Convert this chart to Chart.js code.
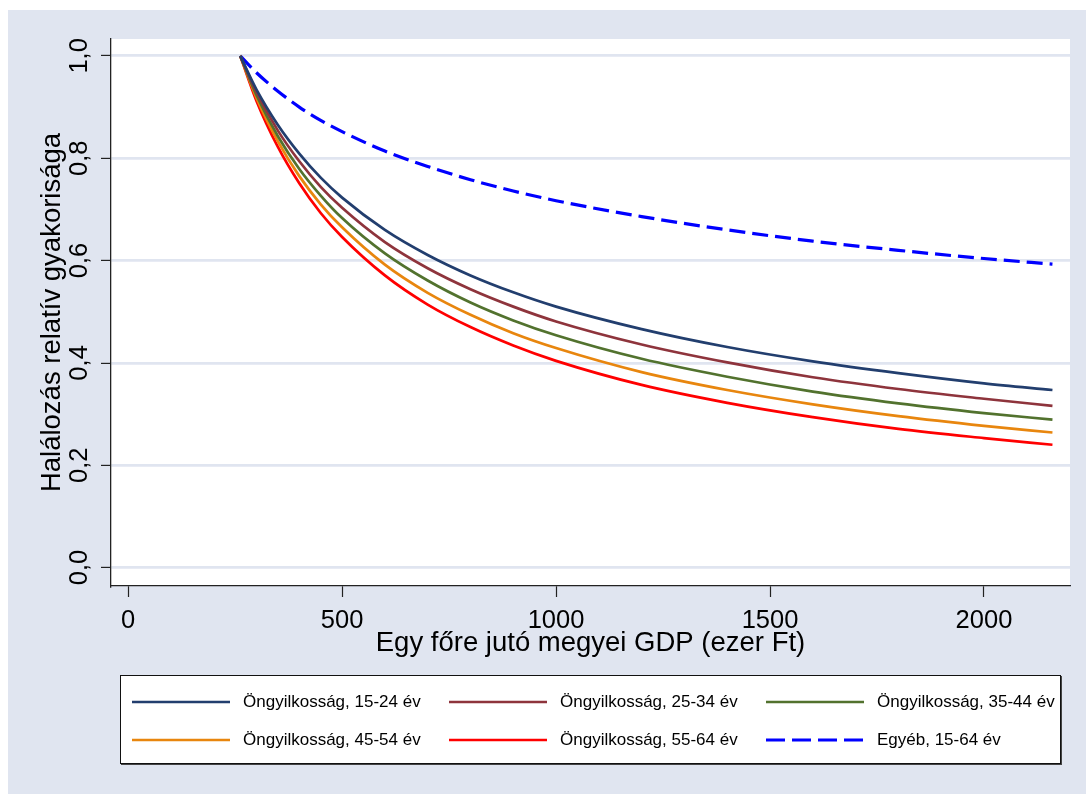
<!DOCTYPE html>
<html>
<head>
    <meta charset="utf-8">
    <title>Halálozás relatív gyakorisága</title>
    <script src="https://cdn.jsdelivr.net/npm/chart.js"></script>
    <style>
        body { margin: 0; background: #fff; }
        #wrap { position: relative; width: 1086px; height: 794px; }
        #legend {
            position: absolute; left: 120px; top: 675px; width: 939px; height: 87px;
            border: 1px solid #111; box-shadow: 1px 1px 0 #444; background: #fff;
            font-family: "Liberation Sans", Arial, sans-serif; font-size: 17px; color: #000;
        }
        .item { position: absolute; display: flex; align-items: center; height: 20px; white-space: nowrap; }
        .item svg { margin-right: 13px; }
    </style>
</head>
<body>
    <div id="wrap">
        <canvas id="chart" width="1086" height="794"></canvas>
        <div id="legend"></div>
    </div>
    <script>
        // GDP (ezer Ft) - x positions
        const gdp = [262, 300, 350, 400, 450, 500, 600, 700, 800, 900, 1000, 1200, 1400, 1600, 1800, 2000, 2160];

        // relative mortality per series
        const ongy1524 = [1.0, 0.934, 0.865, 0.809, 0.762, 0.723, 0.660, 0.611, 0.571, 0.538, 0.510, 0.466, 0.431, 0.403, 0.380, 0.360, 0.347];
        const ongy2534 = [1.0, 0.929, 0.854, 0.794, 0.744, 0.703, 0.636, 0.585, 0.544, 0.510, 0.481, 0.436, 0.401, 0.372, 0.349, 0.330, 0.316];
        const ongy3544 = [1.0, 0.923, 0.843, 0.779, 0.727, 0.683, 0.614, 0.561, 0.518, 0.483, 0.454, 0.408, 0.373, 0.344, 0.321, 0.302, 0.289];
        const ongy4554 = [1.0, 0.918, 0.833, 0.765, 0.710, 0.665, 0.592, 0.537, 0.494, 0.458, 0.429, 0.382, 0.347, 0.319, 0.296, 0.277, 0.264];
        const ongy5564 = [1.0, 0.912, 0.822, 0.751, 0.693, 0.646, 0.571, 0.514, 0.470, 0.434, 0.404, 0.357, 0.322, 0.294, 0.271, 0.253, 0.240];
        const egyeb1564 = [1.0, 0.967, 0.931, 0.900, 0.874, 0.852, 0.814, 0.784, 0.758, 0.736, 0.717, 0.686, 0.660, 0.638, 0.620, 0.604, 0.593];

        const seriesLabels = ['Öngyilkosság, 15-24 év', 'Öngyilkosság, 25-34 év', 'Öngyilkosság, 35-44 év',
                              'Öngyilkosság, 45-54 év', 'Öngyilkosság, 55-64 év', 'Egyéb, 15-64 év'];
        const seriesColors = ['rgb(34,62,110)', 'rgb(142,52,60)', 'rgb(82,114,46)', 'rgb(232,134,14)', 'rgb(255,0,0)', 'rgb(0,0,255)'];
        const seriesData = [ongy1524, ongy2534, ongy3544, ongy4554, ongy5564, egyeb1564];

        const yTicks = [0, 0.2, 0.4, 0.6, 0.8, 1.0];
        const xTicks = [0, 500, 1000, 1500, 2000];

        Chart.defaults.font.family = '"Liberation Sans", Arial, sans-serif';
        Chart.defaults.color = '#000';

        const panelBg = 'rgb(224,229,240)';

        // grey frame and white plot region, like Stata s2color
        const panel = {
            id: 'panel',
            beforeDraw(chart) {
                const { ctx, chartArea: a } = chart;
                ctx.save();
                ctx.fillStyle = '#fff';
                ctx.fillRect(0, 0, chart.width, chart.height);
                ctx.fillStyle = panelBg;
                ctx.fillRect(8, 10, chart.width - 8, chart.height - 10);
                ctx.fillStyle = '#fff';
                ctx.fillRect(a.left, a.top, a.right - a.left, a.bottom - a.top);
                ctx.restore();
            }
        };

        const datasets = seriesData.map((vals, i) => ({
            label: seriesLabels[i],
            data: gdp.map((x, j) => ({ x: x, y: vals[j] })),
            borderColor: seriesColors[i],
            borderWidth: i === 5 ? 3.2 : 2.7,
            borderDash: i === 5 ? [16, 7] : [],
            pointRadius: 0,
            cubicInterpolationMode: 'monotone',
            fill: false
        }));

        const chart = new Chart(document.getElementById('chart').getContext('2d'), {
            type: 'line',
            data: { datasets: datasets },
            options: {
                responsive: false,
                animation: false,
                devicePixelRatio: 1,
                layout: { padding: { left: 8, top: 39, right: 16, bottom: 134 } },
                plugins: { legend: { display: false }, tooltip: { enabled: false } },
                scales: {
                    x: {
                        type: 'linear',
                        min: -40,
                        max: 2201,
                        afterFit: s => { s.height = 74; },
                        afterBuildTicks: s => { s.ticks = xTicks.map(v => ({ value: v })); },
                        ticks: { font: { size: 25.5 }, padding: 9, maxRotation: 0, color: '#000', callback: v => String(v) },
                        grid: { drawOnChartArea: false, tickLength: 11, tickColor: '#222', tickWidth: 1.2 },
                        border: { display: true, color: '#222', width: 1.3 },
                        title: { display: true, text: 'Egy főre jutó megyei GDP (ezer Ft)', font: { size: 27.5 }, color: '#000', padding: { top: 0, bottom: 0 } }
                    },
                    y: {
                        min: -0.036,
                        max: 1.033,
                        afterFit: s => { s.width = 103; },
                        afterBuildTicks: s => { s.ticks = yTicks.map(v => ({ value: v })); },
                        ticks: {
                            font: { size: 25.5 }, padding: 3, minRotation: 90, maxRotation: 90, crossAlign: 'center', color: '#000',
                            callback: v => v.toFixed(1).replace('.', ',')
                        },
                        grid: { color: panelBg, lineWidth: 2.8, tickLength: 10, tickColor: '#222', tickWidth: 1.2 },
                        border: { display: true, color: '#222', width: 1.3 },
                        title: { display: true, text: 'Halálozás relatív gyakorisága', font: { size: 27.5 }, color: '#000', padding: { top: 28, bottom: 0 } }
                    }
                }
            },
            plugins: [panel]
        });

        // legend box below the chart, 3 columns x 2 rows
        const legend = document.getElementById('legend');
        const colX = [11, 328, 645];
        const rowY = [16, 54];
        seriesLabels.forEach((lab, i) => {
            const item = document.createElement('div');
            item.className = 'item';
            item.style.left = colX[i % 3] + 'px';
            item.style.top = rowY[Math.floor(i / 3)] + 'px';
            const dash = i === 5 ? ' stroke-dasharray="19 7"' : '';
            item.innerHTML = '<svg width="98" height="10"><line x1="0" y1="5" x2="98" y2="5" stroke="' + seriesColors[i] +
                '" stroke-width="' + (i === 5 ? 3 : 2.7) + '"' + dash + '/></svg><span>' + lab + '</span>';
            legend.appendChild(item);
        });
    </script>
</body>
</html>
